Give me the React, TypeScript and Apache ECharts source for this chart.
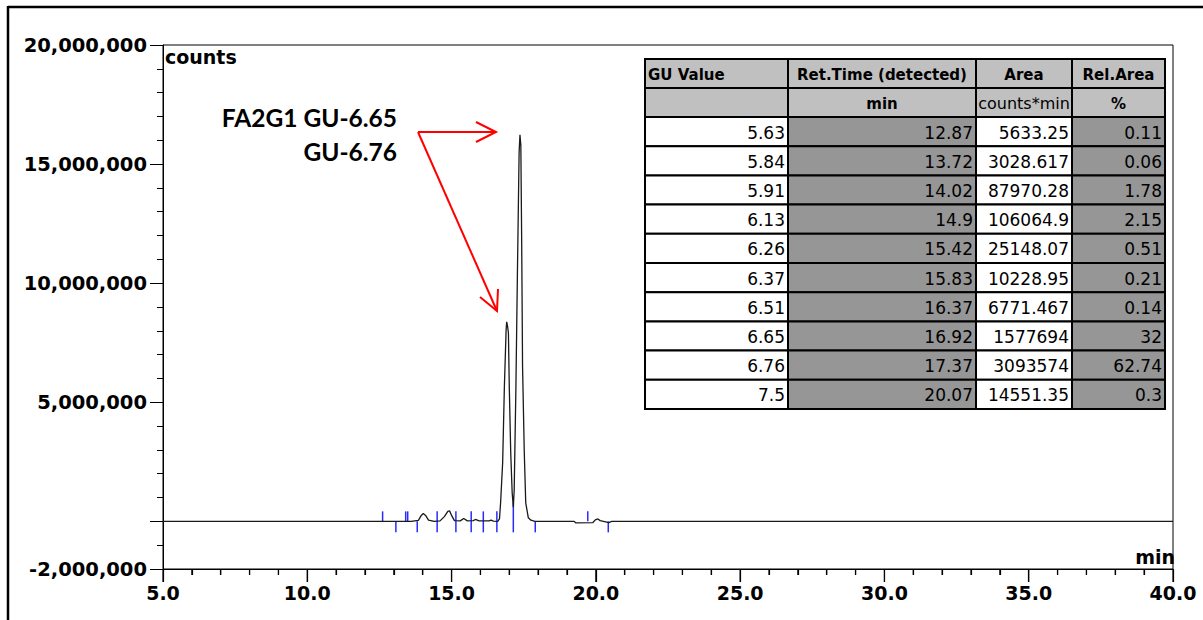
import React, { useEffect, useRef } from "react";
import * as echarts from "echarts";

// Chromatogram trace (time in min, signal in counts)
const traceTime = [
  5, 12.5, 13.0, 13.6, 13.85, 13.95, 14.02, 14.1, 14.2, 14.4, 14.6, 14.75, 14.87, 14.93, 15.0, 15.1,
  15.3, 15.42, 15.55, 15.75, 15.83, 15.95, 16.3, 16.37, 16.45, 16.6, 16.66, 16.7, 16.77, 16.83, 16.89,
  16.91, 16.94, 16.97, 17.0, 17.05, 17.1, 17.14, 17.17, 17.23, 17.28, 17.34, 17.37, 17.4, 17.43, 17.46,
  17.52, 17.57, 17.66, 17.75, 17.89, 19.25, 19.3, 19.9, 19.98, 20.07, 20.15, 20.45, 20.55, 40,
];
const traceCounts = [
  0, 0, 0, 0, 40000, 250000, 330000, 250000, 50000, 0, 20000, 200000, 420000, 440000, 250000, 30000,
  20000, 120000, 20000, 30000, 80000, 20000, 20000, 50000, 10000, 0, 100000, 800000, 2460000, 5650000, 8040000,
  8380000, 8200000, 7910000, 5650000, 2880000, 1200000, 600000, 1320000, 5650000, 10260000, 15470000, 16230000, 15800000, 11690000, 6490000,
  2880000, 780000, 150000, 50000, 0, 0, -60000, -50000, 60000, 100000, 30000, -50000, 0, 0,
];

// Integration event markers
const markerTime = [12.61, 13.07, 13.41, 13.48, 13.81, 14.5, 15.15, 15.68, 16.1, 16.57, 17.14, 17.9, 19.72, 20.43];
const markerKind = ["up", "down", "up", "up", "down", "both", "both", "both", "both", "both", "valley", "down", "up", "down"];
const markerTop = [0, 0, 0, 0, 0, 0, 0, 0, 0, 0, 700000, 0, 0, 0];

// Axis values
const xMajorTickValues = [5, 10, 15, 20, 25, 30, 35, 40];
const yLabelValues = [20000000, 15000000, 10000000, 5000000, -2000000];
const yMajorTickValues = [20000000, 15000000, 10000000, 5000000, 0, -2000000];
const Y_MIN = -2000000;

// Table
const tableHeader1 = ["GU Value", "Ret.Time (detected)", "Area", "Rel.Area"];
const tableHeader2 = ["", "min", "counts*min", "%"];
const guValues = ["5.63", "5.84", "5.91", "6.13", "6.26", "6.37", "6.51", "6.65", "6.76", "7.5"];
const retTimes = ["12.87", "13.72", "14.02", "14.9", "15.42", "15.83", "16.37", "16.92", "17.37", "20.07"];
const areas = ["5633.25", "3028.617", "87970.28", "106064.9", "25148.07", "10228.95", "6771.467", "1577694", "3093574", "14551.35"];
const relAreas = ["0.11", "0.06", "1.78", "2.15", "0.51", "0.21", "0.14", "32", "62.74", "0.3"];

const FONT = '"DejaVu Sans", sans-serif';

function buildTable(): any[] {
  const colX = [645, 788, 976, 1072, 1165];
  const top = 59;
  const h1 = 29;
  const h2 = 29;
  const rowH = 29.2;
  const els: any[] = [];
  const cols = [guValues, retTimes, areas, relAreas];
  const dataFill = ["#ffffff", "#969696", "#ffffff", "#969696"];
  const cell = (x0: number, y0: number, w: number, h: number, fill: string) => ({
    type: "rect",
    shape: { x: x0, y: y0, width: w, height: h },
    style: { fill, stroke: "#000", lineWidth: 2 },
    z: 10,
  });
  for (let c = 0; c < 4; c++) {
    const x0 = colX[c];
    const w = colX[c + 1] - colX[c];
    els.push(cell(x0, top, w, h1, "#c0c0c0"));
    els.push(cell(x0, top + h1, w, h2, "#c0c0c0"));
    els.push({
      type: "text",
      z: 11,
      style: {
        text: tableHeader1[c],
        x: c === 0 ? x0 + 3 : x0 + w / 2,
        y: top + h1 / 2 + 1,
        align: c === 0 ? "left" : "center",
        verticalAlign: "middle",
        fontFamily: FONT,
        fontWeight: "bold",
        fontSize: 15,
        fill: "#000",
      },
    });
    if (tableHeader2[c]) {
      els.push({
        type: "text",
        z: 11,
        style: {
          text: tableHeader2[c],
          x: x0 + w / 2,
          y: top + h1 + h2 / 2 + 1,
          align: "center",
          verticalAlign: "middle",
          fontFamily: FONT,
          fontWeight: c === 2 ? "normal" : "bold",
          fontSize: c === 2 ? 16 : 15,
          fill: "#000",
        },
      });
    }
    for (let r = 0; r < guValues.length; r++) {
      const y0 = top + h1 + h2 + r * rowH;
      els.push(cell(x0, y0, w, rowH, dataFill[c]));
      els.push({
        type: "text",
        z: 11,
        style: {
          text: cols[c][r],
          x: x0 + w - 3,
          y: y0 + rowH / 2 + 1,
          align: "right",
          verticalAlign: "middle",
          fontFamily: FONT,
          fontSize: 17,
          fill: "#000",
        },
      });
    }
  }
  return els;
}

function buildAnnotations(): any[] {
  const red = { stroke: "#ff0000", lineWidth: 2 };
  return [
    { type: "polyline", z: 12, shape: { points: [[418, 132], [496, 132]] }, style: red },
    { type: "polyline", z: 12, shape: { points: [[476, 122], [496, 132], [476, 142]] }, style: { ...red, fill: "none" } },
    { type: "polyline", z: 12, shape: { points: [[418, 132], [497, 311]] }, style: red },
    { type: "polyline", z: 12, shape: { points: [[498, 289], [497, 311], [480, 297]] }, style: { ...red, fill: "none" } },
    {
      type: "text",
      z: 12,
      style: { text: "FA2G1 GU-6.65", x: 397, y: 117, align: "right", verticalAlign: "middle", fontFamily: "Lato, sans-serif", fontWeight: "bold", fontSize: 24.5, fill: "#000" },
    },
    {
      type: "text",
      z: 12,
      style: { text: "GU-6.76", x: 397, y: 151, align: "right", verticalAlign: "middle", fontFamily: "Lato, sans-serif", fontWeight: "bold", fontSize: 24.5, fill: "#000" },
    },
    {
      type: "text",
      z: 12,
      style: { text: "counts", x: 165, y: 57, align: "left", verticalAlign: "middle", fontFamily: FONT, fontWeight: "bold", fontSize: 19, fill: "#000" },
    },
    {
      type: "text",
      z: 12,
      style: { text: "min", x: 1175, y: 557, align: "right", verticalAlign: "middle", fontFamily: FONT, fontWeight: "bold", fontSize: 19, fill: "#000" },
    },
    // outer frame
    { type: "line", z: 12, shape: { x1: 8, y1: 7, x2: 1203, y2: 7 }, style: { stroke: "#000", lineWidth: 2.5 } },
    { type: "line", z: 12, shape: { x1: 8, y1: 6, x2: 8, y2: 620 }, style: { stroke: "#000", lineWidth: 2.5 } },
  ];
}

export default function App() {
  const ref = useRef<HTMLDivElement>(null);
  useEffect(() => {
    if (!ref.current) return;
    const chart = echarts.init(ref.current, null, { renderer: "svg" });
    const axisLabelStyle = { color: "#000", fontFamily: FONT, fontWeight: "bold" as const, fontSize: 19 };
    const baseGraphics = [...buildTable(), ...buildAnnotations()];
    chart.setOption({
      animation: false,
      backgroundColor: "#fff",
      grid: { left: 163, top: 45, width: 1010, height: 524, show: true, borderColor: "#000", borderWidth: 1 },
      xAxis: [
        {
          type: "value",
          min: 5,
          max: 40,
          interval: 5,
          axisLine: { show: true, onZero: false, lineStyle: { color: "#000", width: 1 } },
          axisTick: { show: true, inside: false, length: 13, lineStyle: { color: "#000", width: 1.2 } },
          minorTick: { show: true, splitNumber: 5, length: 6, lineStyle: { color: "#000", width: 1.2 } },
          splitLine: { show: false },
          axisLabel: { ...axisLabelStyle, margin: 14, formatter: (v: number) => v.toFixed(1) },
        },
      ],
      yAxis: [
        {
          type: "value",
          min: Y_MIN,
          max: 20000000,
          interval: 1000000,
          axisLine: { show: true, onZero: false, lineStyle: { color: "#000", width: 1 } },
          axisTick: { show: true, length: 13, customValues: yMajorTickValues, lineStyle: { color: "#000" } },
          splitLine: { show: false },
          axisLabel: {
            ...axisLabelStyle,
            fontSize: 19.5,
            margin: 16,
            customValues: yLabelValues,
            formatter: (v: number) => v.toLocaleString("en-US"),
          },
        },
        {
          type: "value",
          min: Y_MIN,
          max: 20000000,
          interval: 1000000,
          position: "left",
          axisLine: { show: false, onZero: false },
          axisTick: { show: true, length: 6, lineStyle: { color: "#000" } },
          splitLine: { show: false },
          axisLabel: { show: false },
        },
      ],
      series: [
        {
          type: "custom",
          z: 2,
          xAxisIndex: 0,
          yAxisIndex: 0,
          data: markerTime.map((t, i) => [t, markerTop[i], ["up", "down", "both", "valley"].indexOf(markerKind[i])]),
          encode: { x: 0, y: 1 },
          renderItem: (params: any, api: any) => {
            const t = api.value(0);
            const kind = api.value(2);
            const base = api.coord([t, 0]);
            const topP = api.coord([t, api.value(1)]);
            let y1 = base[1];
            let y2 = base[1];
            if (kind === 0) { y1 = base[1] - 10; }
            else if (kind === 1) { y2 = base[1] + 11; }
            else if (kind === 2) { y1 = base[1] - 10; y2 = base[1] + 11; }
            else { y1 = topP[1] - 2; y2 = base[1] + 11; }
            return {
              type: "line",
              shape: { x1: base[0], y1, x2: base[0], y2 },
              style: { stroke: "#2a2aff", lineWidth: 1.5 },
            };
          },
        },
        {
          type: "line",
          z: 3,
          xAxisIndex: 0,
          yAxisIndex: 0,
          showSymbol: false,
          symbol: "none",
          lineStyle: { color: "#1a1a1a", width: 1.3 },
          data: traceTime.map((t, i) => [t, traceCounts[i]]),
        },
      ],
      graphic: baseGraphics,
    });

    // x-axis tick marks placed through the axis scale (every 1 min, longer every 5 min)
    try {
      const tickEls: any[] = [];
      for (let i = 0; i < xMajorTickValues.length; i++) {
        const vals: Array<[number, number]> = [[xMajorTickValues[i], 13]];
        if (i < xMajorTickValues.length - 1) {
          for (let k = 1; k < 5; k++) vals.push([xMajorTickValues[i] + k, 6]);
        }
        for (const [v, len] of vals) {
          const p = chart.convertToPixel({ xAxisIndex: 0, yAxisIndex: 0 }, [v, Y_MIN]) as number[];
          if (p && isFinite(p[0]) && isFinite(p[1])) {
            tickEls.push({
              type: "line",
              z: 12,
              shape: { x1: p[0], y1: p[1], x2: p[0], y2: p[1] + len },
              style: { stroke: "#000", lineWidth: 1.2 },
            });
          }
        }
      }
      chart.setOption({ graphic: [...baseGraphics, ...tickEls] });
    } catch (e) {
      // keep chart as is
    }
    return () => chart.dispose();
  }, []);
  return <div ref={ref} style={{ position: "fixed", left: 0, top: 0, width: 1203, height: 620, background: "#fff" }} />;
}
